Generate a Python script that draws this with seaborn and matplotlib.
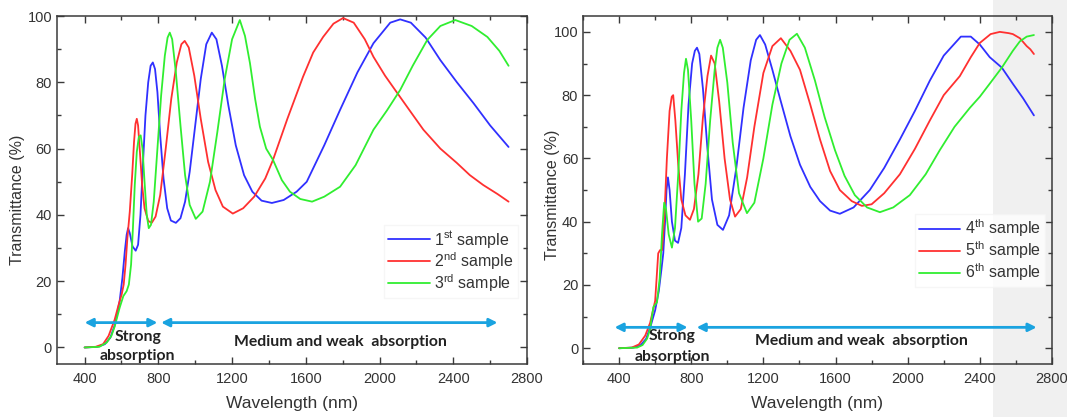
import matplotlib
matplotlib.use('Agg')
import matplotlib.pyplot as plt
from matplotlib.patches import Rectangle
from matplotlib.ticker import MultipleLocator
import seaborn as sns
import pandas as pd

# ---------------- data ----------------
# left panel
wl_1 = [400, 470, 510, 540, 565, 590, 605, 618, 628, 636, 645, 660, 677, 690, 703, 716, 730, 745, 758, 770,
        782, 795, 810, 828, 848, 868, 895, 920, 945, 970, 1000, 1030, 1060, 1090, 1115, 1145, 1180, 1220, 1265,
        1310, 1360, 1416, 1480, 1550, 1605, 1700, 1786, 1880, 1967, 2058, 2112, 2170, 2250, 2330, 2420, 2510,
        2600, 2700]
t_1 = [0, 0.2, 1, 3, 7, 14, 21, 29, 34, 36, 34.5, 30.5, 29.2, 31, 40, 55, 70, 80, 85, 86,
       84, 77, 64, 51, 42, 38.3, 37.6, 39, 44, 53, 67, 81, 91.5, 95, 93, 85, 73, 61, 52,
       47, 44.3, 43.6, 44.5, 47, 50, 61, 71.7, 83, 91.8, 98, 99, 98, 93.5, 86.7, 80, 73.7,
       67, 60.5]

wl_2 = [400, 460, 500, 530, 563, 585, 601, 612, 622, 632, 645, 658, 668, 676, 683, 690, 700, 712, 725, 745,
        764, 785, 810, 840, 870, 900, 925, 943, 965, 995, 1030, 1070, 1110, 1150, 1204, 1260, 1320, 1380,
        1422, 1500, 1585, 1640, 1694, 1750, 1802, 1860, 1920, 1967, 2030, 2096, 2170, 2238, 2330, 2419, 2490,
        2563, 2640, 2700]
t_2 = [0, 0.2, 1, 3.5, 8.4, 13, 16, 19, 25, 33, 41, 52, 62, 67.5, 69, 67, 59, 49, 42, 38.2,
       37.6, 39.5, 46, 60, 75, 86, 91.5, 92.5, 90.5, 82, 69, 56, 47.5, 42.5, 40.4, 42, 45.5, 51,
       56.6, 69, 81.7, 89, 93.7, 97.7, 99.4, 98, 93, 87.7, 82, 76.8, 71, 65.7, 60, 55.7, 52,
       49, 46.3, 44]

wl_3 = [400, 480, 520, 545, 563, 590, 610, 628, 640, 652, 662, 672, 683, 694, 704, 714, 725, 737, 748, 760,
        775, 795, 815, 835, 850, 862, 875, 895, 920, 945, 970, 1003, 1040, 1080, 1120, 1160, 1200, 1242, 1270,
        1297, 1325, 1351, 1385, 1422, 1470, 1514, 1570, 1634, 1700, 1786, 1870, 1967, 2040, 2112, 2180, 2259,
        2330, 2411, 2500, 2585, 2650, 2700]
t_3 = [0, 0.2, 1.5, 3.5, 6.3, 12, 15.5, 17, 19, 25, 36, 49, 59, 63.5, 64, 60, 50, 40, 36, 37,
       44, 60, 76, 88, 93.5, 95, 93, 83, 67, 52, 43, 38.8, 41, 50, 65, 81, 93, 98.8, 94,
       85.8, 75, 66.6, 60, 56.6, 50.5, 47, 44.8, 44, 45.5, 48.5, 55, 65.7, 71.5, 77.7, 85, 92.8,
       97, 98.8, 97, 93.7, 89.5, 85]

# right panel
wl_4 = [400, 480, 520, 550, 575, 600, 620, 635, 645, 655, 663, 671, 680, 693, 710, 727, 745, 765, 785, 805,
        820, 832, 845, 865, 890, 915, 945, 976, 1010, 1050, 1090, 1130, 1160, 1181, 1210, 1250, 1292, 1350,
        1403, 1460, 1514, 1570, 1624, 1700, 1790, 1870, 1957, 2040, 2123, 2200, 2295, 2350, 2400, 2455, 2522,
        2583, 2640, 2700]
t_4 = [0, 0.2, 1, 3, 7, 12, 18, 25, 30, 40, 50, 54, 50, 40, 34, 33.3, 38, 55, 77, 90,
       94, 95, 93, 82, 63, 47, 39, 37.4, 42, 57, 76, 91, 97.5, 99, 96, 88, 79, 67,
       58, 51, 46.5, 43.5, 42.5, 44.5, 50, 57, 66, 75, 84.6, 92.5, 98.5, 98.5, 96, 92, 88.7,
       83.6, 79, 73.6]

wl_5 = [400, 470, 510, 545, 572, 600, 617, 627, 638, 650, 665, 680, 692, 700, 712, 728, 745, 768, 793, 815,
        840, 865, 890, 910, 930, 955, 985, 1015, 1043, 1075, 1110, 1150, 1200, 1250, 1297, 1350, 1403, 1460,
        1514, 1570, 1624, 1690, 1746, 1800, 1870, 1957, 2040, 2123, 2200, 2289, 2350, 2400, 2460, 2511, 2560,
        2583, 2622, 2660, 2680, 2700]
t_5 = [0, 0.2, 1.2, 4, 8, 15, 30, 31, 31, 40, 60, 75, 79.5, 80, 72, 58, 47, 42, 40.6, 44,
       55, 73, 86, 92.5, 90, 78, 60, 47, 41.6, 44, 54, 70, 87, 95.5, 98, 94, 88, 77,
       66, 56, 50, 46.5, 45, 45.5, 49, 55, 63, 72, 80, 86, 92, 96.5, 99.3, 100, 99.6,
       99.3, 98, 95.5, 94.5, 93]

wl_6 = [400, 500, 530, 555, 572, 590, 610, 625, 638, 650, 660, 675, 693, 710, 728, 745, 760, 771, 782, 800,
        818, 838, 858, 880, 905, 930, 945, 960, 975, 1000, 1030, 1065, 1109, 1150, 1200, 1250, 1300, 1345,
        1386, 1430, 1486, 1540, 1597, 1650, 1707, 1775, 1846, 1920, 2012, 2100, 2178, 2260, 2345, 2400, 2460,
        2522, 2583, 2622, 2660, 2700]
t_6 = [0, 0.2, 1, 3, 6, 13, 14.5, 22, 36, 46, 44, 36, 31.8, 38, 55, 75, 87, 91.5, 88, 72,
       52, 40, 41, 52, 72, 88, 95, 97.5, 95, 84, 65, 49, 42.7, 46, 60, 77, 90, 97.5,
       99.4, 95, 84.6, 73, 62.6, 54.5, 48.4, 44.5, 43, 44.5, 48.4, 55, 62.6, 70, 76, 79.5, 84,
       88.7, 94, 97, 98.5, 99]

labels_left = ['1$^{\\rm st}$ sample', '2$^{\\rm nd}$ sample', '3$^{\\rm rd}$ sample']
labels_right = ['4$^{\\rm th}$ sample', '5$^{\\rm th}$ sample', '6$^{\\rm th}$ sample']
line_colors = ['#3030ff', '#ff3030', '#30ee30']


def make_frame(wls, ts, labels):
    parts = []
    for w, t, lab in zip(wls, ts, labels):
        parts.append(pd.DataFrame({'wavelength': w, 'T': t, 'sample': lab}))
    return pd.concat(parts, ignore_index=True)


df_left = make_frame([wl_1, wl_2, wl_3], [t_1, t_2, t_3], labels_left)
df_right = make_frame([wl_4, wl_5, wl_6], [t_4, t_5, t_6], labels_right)

# ---------------- style ----------------
sns.set_style('ticks')
plt.rcParams['font.family'] = ['Liberation Sans', 'DejaVu Sans']
plt.rcParams['mathtext.fontset'] = 'custom'
plt.rcParams['mathtext.rm'] = 'Liberation Sans'
plt.rcParams['axes.edgecolor'] = '#3a3a3a'
plt.rcParams['axes.linewidth'] = 1.1

fig = plt.figure(figsize=(10.67, 4.17), dpi=100)
fig.patch.set_facecolor('white')
# light grey strip at the right edge of the screenshot
fig.patches.append(Rectangle((0.9306, 0), 0.07, 1, transform=fig.transFigure,
                             facecolor='#f0f0f0', edgecolor='none', zorder=-10))

ax1 = fig.add_axes([0.0534, 0.127, 0.4405, 0.8345])
ax2 = fig.add_axes([0.5464, 0.127, 0.4395, 0.8345])

arrow_col = '#1aa3e0'
txt_font = ['Lato', 'DejaVu Sans']

panels = [
    (ax1, df_left, (250, 2800), (-5, 100), (0.98, 0.19), (-0.068, 0.471),
     [(400, 795, 7.5), (815, 2640, 7.5)], (688, 3.3, -2.7), (1786, 1.5)),
    (ax2, df_right, (200, 2800), (-5, 105), (0.985, 0.22), (-0.049, 0.486),
     [(375, 780, 6.6), (830, 2715, 6.6)], (693, 3.8, -2.8), (1746, 2.2)),
]

for ax, df, xl, yl, leg_pos, ylab_pos, arrows, strong, medium in panels:
    ax.patch.set_alpha(0)
    sns.lineplot(data=df, x='wavelength', y='T', hue='sample', palette=line_colors,
                 estimator=None, sort=False, lw=1.3, ax=ax)
    ax.set_xlim(*xl)
    ax.set_ylim(*yl)
    ax.xaxis.set_major_locator(MultipleLocator(400))
    ax.xaxis.set_minor_locator(MultipleLocator(200))
    ax.yaxis.set_major_locator(MultipleLocator(20))
    ax.yaxis.set_minor_locator(MultipleLocator(10))
    ax.tick_params(which='both', direction='in', top=True, right=True, colors='#3a3a3a',
                   labelcolor='#333333', labelsize=10.5)
    ax.tick_params(which='major', length=5, width=1)
    ax.tick_params(which='minor', length=3, width=1)
    ax.tick_params(axis='x', pad=6)
    ax.set_xlabel('Wavelength (nm)', fontsize=12.5, color='#333333', labelpad=7)
    ax.set_ylabel('Transmittance (%)', fontsize=11.5, color='#333333')
    ax.yaxis.set_label_coords(*ylab_pos)

    leg = ax.legend(loc='lower right', bbox_to_anchor=leg_pos, fontsize=11.5, frameon=True,
                    fancybox=False, handlelength=2.6, handletextpad=0.3, labelspacing=0.02,
                    borderpad=0.25, borderaxespad=0)
    leg.get_frame().set_edgecolor('#f4f4f4')
    leg.get_frame().set_facecolor('white')
    for t in leg.get_texts():
        t.set_color('#333333')

    # absorption region arrows
    for x0, x1, y in arrows:
        ax.annotate('', xy=(x1, y), xytext=(x0, y),
                    arrowprops=dict(arrowstyle='<|-|>', color=arrow_col, lw=2,
                                    mutation_scale=12, shrinkA=0, shrinkB=0))
    ax.text(strong[0], strong[1], 'Strong', ha='center', va='center', fontsize=11.3,
            fontweight='bold', color='#222222', family=txt_font)
    ax.text(strong[0], strong[2], 'absorption', ha='center', va='center', fontsize=11.3,
            fontweight='bold', color='#222222', family=txt_font)
    ax.text(medium[0], medium[1], 'Medium and weak  absorption', ha='center', va='center',
            fontsize=11.3, fontweight='bold', color='#222222', family=txt_font)

fig.savefig('out.png', dpi=100)
